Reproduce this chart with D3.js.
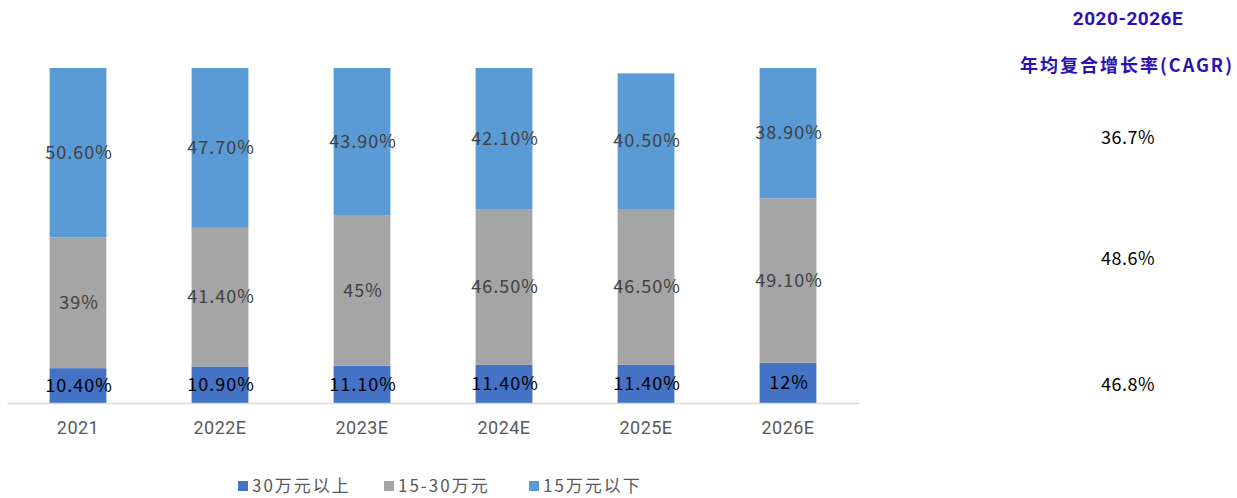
<!DOCTYPE html>
<html>
<head>
<meta charset="utf-8">
<script src="https://cdn.jsdelivr.net/npm/d3@7"></script>
<style>
  body { margin: 0; background: #fff; }
  svg text { font-family: "Noto Sans CJK SC", "DejaVu Sans", sans-serif; }
</style>
</head>
<body>
<svg id="chart" width="1237" height="498"></svg>
<script>
// data
const years = ["2021", "2022E", "2023E", "2024E", "2025E", "2026E"];
const above30 = [10.4, 10.9, 11.1, 11.4, 11.4, 12];
const mid15to30 = [39, 41.4, 45, 46.5, 46.5, 49.1];
const below15 = [50.6, 47.7, 43.9, 42.1, 40.5, 38.9];
const seriesNames = ["30万元以上", "15-30万元", "15万元以下"];
const cagrTitle = ["2020-2026E", "年均复合增长率(CAGR)"];
const cagrValues = ["36.7%", "48.6%", "46.8%"];

const colors = ["#4472C4", "#A5A5A5", "#5B9BD5"];
const labelColors = ["#000000", "#404040", "#404040"];

const svg = d3.select("#chart");

const x = d3.scaleBand().domain(years).range([7, 859]).paddingInner(0.6).paddingOuter(0.3);
const y = d3.scaleLinear().domain([0, 100]).range([403, 68]);

const table = years.map((yr, i) => ({ year: yr, s0: above30[i], s1: mid15to30[i], s2: below15[i] }));
const stack = d3.stack().keys(["s0", "s1", "s2"])(table);

const fmt = v => (Number.isInteger(v) ? v : v.toFixed(2)) + "%";

// bars
stack.forEach((layer, k) => {
  svg.append("g")
    .selectAll("rect")
    .data(layer)
    .join("rect")
    .attr("x", d => x(d.data.year))
    .attr("y", d => y(d[1]))
    .attr("width", x.bandwidth())
    .attr("height", d => y(d[0]) - y(d[1]))
    .attr("fill", colors[k]);
});

// x axis
const xAxis = svg.append("g")
  .attr("transform", "translate(0,403)")
  .call(d3.axisBottom(x).tickSize(0).tickPadding(18));
xAxis.select(".domain").attr("stroke", "#D9D9D9").attr("stroke-width", 1.5);
xAxis.selectAll("text")
  .attr("fill", "#595959")
  .style("font-size", "18px")
  .style("letter-spacing", "0.5px")
  .style("font-family", "Roboto, 'Liberation Sans', sans-serif");

// segment labels
stack.forEach((layer, k) => {
  svg.append("g")
    .selectAll("text")
    .data(layer)
    .join("text")
    .attr("x", d => x(d.data.year) + x.bandwidth() / 2 + 1)
    .attr("y", d => (y(d[0]) + y(d[1])) / 2)
    .attr("dy", "0.35em")
    .attr("text-anchor", "middle")
    .attr("fill", labelColors[k])
    .style("font-size", "18px")
    .style("letter-spacing", "1px")
    .text(d => fmt(d[1] - d[0]));
});

// legend
const legend = svg.append("g").attr("transform", "translate(238,486)");
const legendX = [0, 146, 291];
seriesNames.forEach((name, k) => {
  const g = legend.append("g").attr("transform", `translate(${legendX[k]},0)`);
  g.append("rect").attr("x", 0).attr("y", -5).attr("width", 10).attr("height", 10).attr("fill", colors[k]);
  g.append("text")
    .attr("x", 14)
    .attr("dy", "0.35em")
    .attr("fill", "#595959")
    .style("font-size", "17px")
    .style("letter-spacing", "2px")
    .text(name);
});

// CAGR side panel
svg.append("text")
  .attr("x", 1128).attr("y", 18).attr("dy", "0.35em")
  .attr("text-anchor", "middle")
  .attr("fill", "#2B10B8")
  .style("font-size", "19px").style("font-weight", "bold")
  .style("letter-spacing", "0.5px")
  .style("font-family", "Roboto, 'Liberation Sans', sans-serif")
  .text(cagrTitle[0]);
svg.append("text")
  .attr("x", 1127).attr("y", 66).attr("dy", "0.35em")
  .attr("text-anchor", "middle")
  .attr("fill", "#2B10B8")
  .style("font-size", "18px").style("font-weight", "bold")
  .style("letter-spacing", "2px")
  .text(cagrTitle[1]);

const cagrY = [138, 259, 385];
svg.append("g")
  .selectAll("text")
  .data(cagrValues)
  .join("text")
  .attr("x", 1128)
  .attr("y", (d, i) => cagrY[i])
  .attr("dy", "0.35em")
  .attr("text-anchor", "middle")
  .attr("fill", "#000")
  .style("font-size", "18px")
  .style("letter-spacing", "0.5px")
  .text(d => d);
</script>
</body>
</html>
